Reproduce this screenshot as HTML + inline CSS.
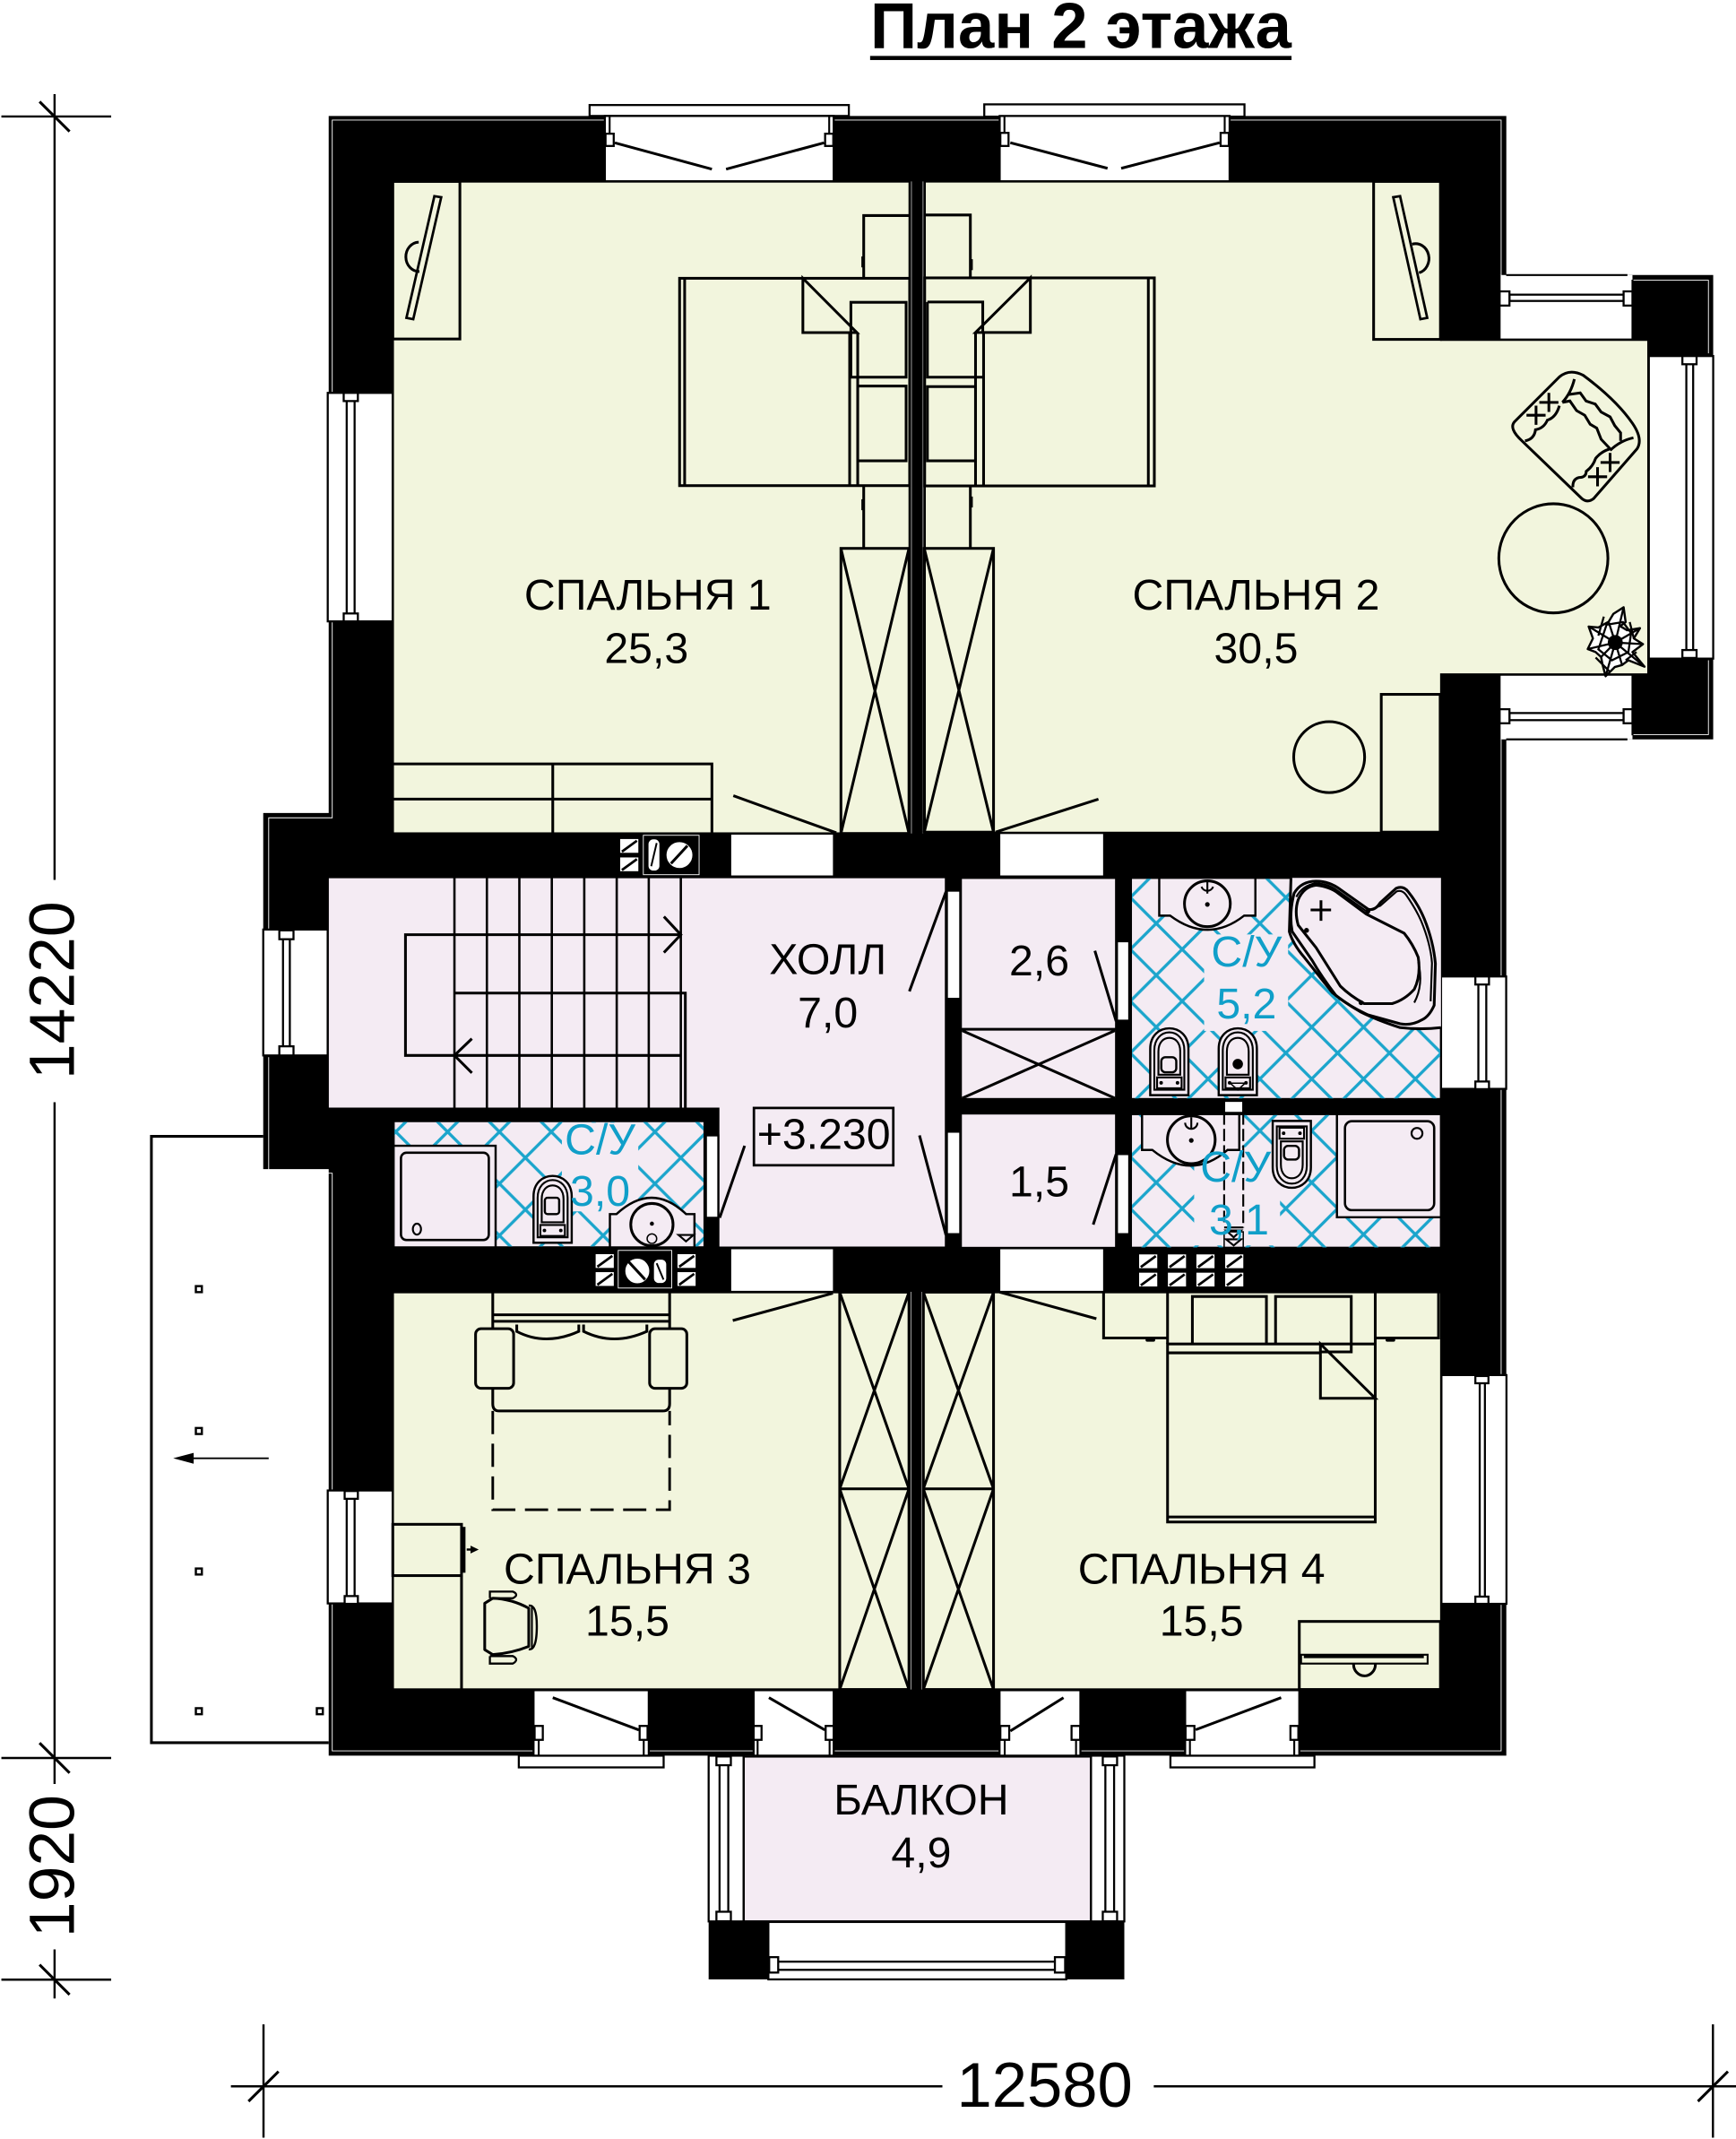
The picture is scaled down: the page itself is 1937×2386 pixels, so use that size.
<!DOCTYPE html>
<html lang="ru"><head><meta charset="utf-8"><title>План 2 этажа</title>
<style>
html,body{margin:0;padding:0;background:#fff}
svg{display:block}
text{font-family:"Liberation Sans",Arial,sans-serif;text-anchor:middle;fill:#000;font-size:31.7px}
.b{fill:#109fc9}
.l{fill:none;stroke:#000;stroke-width:2}
.t{fill:none;stroke:#000;stroke-width:1.4}
.w{fill:#fff;stroke:#000;stroke-width:1.5}
.g{fill:#f2f5dd;stroke:#000;stroke-width:1.7}
.p{fill:#f4ebf3;stroke:#000;stroke-width:1.6}
.gap{fill:none;stroke:#fff;stroke-width:.6}
.pk{fill:#f4ebf3}
</style></head><body>
<svg xmlns="http://www.w3.org/2000/svg" width="1937" height="2386" viewBox="0 0 1272.9 1568">
<defs>
<pattern id="tile1" patternUnits="userSpaceOnUse" x="866.8" y="695.9" width="38" height="38"><path d="M0,0L38,38M38,0L0,38" stroke="#1ba5cc" stroke-width="2.2" fill="none"/></pattern>
<pattern id="tile2" patternUnits="userSpaceOnUse" x="385.2" y="848.7" width="38" height="38"><path d="M0,0L38,38M38,0L0,38" stroke="#1ba5cc" stroke-width="2.2" fill="none"/></pattern>
<g id="wc">
<path class="p" d="M1,49V15C1,5 8,0 15,0C22,0 29,5 29,15V49Z"/>
<path class="t" d="M4,45V16C4,8 9,3 15,3C21,3 26,8 26,16V45Z"/>
<path class="t" d="M7,34V17C7,10 11,7 15,7C19,7 23,10 23,17V34Z"/>
<path class="t" d="M6,36H24V44H6Z"/>
<circle cx="9" cy="40" r="1.3"/><circle cx="21" cy="40" r="1.3"/>
</g>
<g id="cell"><rect class="w" x="0" y="0" width="14.8" height="11.6"/><path d="M2,10L13,2" stroke="#000" stroke-width="1.8"/></g>
</defs>

<!-- title -->
<text x="792.5" y="35" style="font-weight:bold;font-size:47.6px">План 2 этажа</text>
<rect x="638" y="41" width="309" height="3"/>

<!-- porch -->
<path class="l" d="M193,833H111V1277.5H241"/>
<g fill="#fff" stroke="#000" stroke-width="1.6">
<rect x="143.6" y="942.8" width="4.4" height="4.4"/><rect x="143.6" y="1046.8" width="4.4" height="4.4"/><rect x="143.6" y="1149.8" width="4.4" height="4.4"/><rect x="143.6" y="1252.2" width="4.4" height="4.4"/><rect x="232.3" y="1252.2" width="4.4" height="4.4"/></g>
<path d="M197,1069H135" stroke="#000" stroke-width="1.3"/><path d="M127,1069L142,1065V1073Z"/>

<!-- dimensions -->
<g stroke="#000" stroke-width="1.6" fill="none">
<path d="M40,69V645M40,808V1307.8M40,1429V1465M1,85.4H81.5M1,1288.7H81.5M1,1451.2H81.5"/>
<path d="M29,74.5L51,96.4M29,1277.7L51,1299.7M29,1440.2L51,1462.2" stroke-width="2"/>
<path d="M169.3,1529.4H691M846,1529.4H1273M193.2,1484V1567M1256,1484V1567"/>
<path d="M182.2,1540.4L204.2,1518.5M1245,1540.4L1267,1518.5" stroke-width="2"/>
</g>
<text x="766" y="1544.5" style="font-size:46.4px">12580</text>
<text transform="translate(54.3,726) rotate(-90)" style="font-size:47px">14220</text>
<text transform="translate(54.3,1368) rotate(-90)" style="font-size:47px">1920</text>

<!-- building mass -->
<path d="M241,85H1104.5V1287H241V857H193V596H241Z" fill="#000"/>
<path d="M1193.3,201.6H1256.2V262H1193.3ZM1193.3,482H1256.2V542H1193.3Z" fill="#000"/>
<rect x="519.6" y="1408.5" width="304.8" height="42.5" fill="#000"/>
<path class="gap" d="M243.6,288V88H1100.7V202M1100.7,542V716M1100.7,798V1008M1100.7,1175V1283.5H243.6V1175M243.6,1093V860H197V775M197,681V599.5H243.6V455"/>
<path class="gap" d="M1197,205.4H1252.7V259M1197,538.5H1252.7V484"/>

<!-- window: top -->
<rect class="w" x="432.3" y="77" width="190.1" height="8"/>
<rect class="w" x="443.5" y="85" width="167.8" height="48"/>
<rect class="w" x="721.7" y="76.5" width="190.8" height="9"/>
<rect class="w" x="733" y="85" width="168.6" height="48"/>
<path class="t" d="M447,85V98M608,85V98M736.5,85V98M898,85V98"/>
<rect class="w" x="444" y="98" width="6" height="9"/><rect class="w" x="605" y="98" width="6" height="9"/>
<rect class="w" x="733.5" y="97.4" width="6" height="9.6"/><rect class="w" x="895" y="97.4" width="6" height="9.6"/>
<path class="l" d="M450.8,104.7L522,124M604.2,104.7L532.4,124M740.8,104.6L812.1,123.4M894.3,104.6L822.1,123.4"/>

<!-- left windows -->
<rect class="w" x="240.3" y="288" width="47.7" height="167.5"/>
<rect class="w" x="254.2" y="292" width="5.8" height="160"/>
<rect class="w" x="252" y="288" width="10.4" height="6"/><rect class="w" x="252" y="449.7" width="10.4" height="5.8"/>
<rect class="w" x="193" y="681.4" width="47.3" height="92.3"/>
<rect class="w" x="207.5" y="686" width="5" height="84"/>
<rect class="w" x="204.8" y="682" width="10.4" height="6.5"/><rect class="w" x="204.8" y="767" width="10.4" height="6.7"/>
<rect class="w" x="240.3" y="1092.6" width="47.7" height="82.8"/>
<rect class="w" x="254.2" y="1096" width="5.8" height="76"/>
<rect class="w" x="252.7" y="1093" width="9.7" height="5.7"/><rect class="w" x="252.7" y="1170" width="9.7" height="5.7"/>

<!-- right windows -->
<rect class="w" x="1056.6" y="715.8" width="47.8" height="82.4"/>
<rect class="w" x="1084" y="719" width="5.8" height="76"/>
<rect class="w" x="1081.8" y="715.8" width="10" height="5.9"/><rect class="w" x="1081.8" y="792.8" width="10" height="5.6"/>
<rect class="w" x="1056.8" y="1008" width="47.8" height="167.7"/>
<rect class="w" x="1085" y="1011" width="3.8" height="162"/>
<rect class="w" x="1081.8" y="1008.7" width="9.6" height="5.3"/><rect class="w" x="1081.8" y="1170.4" width="9.6" height="5.3"/>

<!-- bay windows -->
<rect x="1099.6" y="201.6" width="97.4" height="47.2" fill="#fff" stroke="none"/>
<path class="t" d="M1104.4,201.6H1193.3M1099.6,201.6V249M1197,205V249"/>
<rect class="w" x="1106.8" y="216" width="83.7" height="4.6"/>
<rect class="w" x="1099.6" y="213.6" width="7.2" height="10.4"/><rect class="w" x="1190.5" y="213.6" width="6.5" height="10.4"/>
<rect x="1099.6" y="495" width="97.4" height="47" fill="#fff" stroke="none"/>
<path class="t" d="M1104.4,542H1193.3M1099.6,495V542M1197,495V539"/>
<rect class="w" x="1106.8" y="522.7" width="83.7" height="5.2"/>
<rect class="w" x="1099.6" y="519.9" width="7.2" height="10.3"/><rect class="w" x="1190.5" y="519.9" width="6.5" height="10.3"/>
<rect class="w" x="1209" y="261" width="47.2" height="221.8"/>
<rect class="w" x="1236.5" y="265" width="5" height="214"/>
<rect class="w" x="1233.6" y="261" width="10.4" height="6"/><rect class="w" x="1233.6" y="476.5" width="10.4" height="5.8"/>

<!-- bottom windows -->
<rect class="w" x="380.4" y="1287" width="106.2" height="8.6"/>
<rect class="w" x="858.2" y="1287" width="105.6" height="8.6"/>
<rect class="w" x="391.2" y="1239" width="84.5" height="48"/>
<rect class="w" x="552.6" y="1239" width="58.7" height="48"/>
<rect class="w" x="732.9" y="1239" width="59.3" height="48"/>
<rect class="w" x="869" y="1239" width="83.7" height="48"/>
<path class="t" d="M395,1275V1287M472,1275V1287M555.5,1275V1287M608.3,1275V1287M736.7,1275V1287M789,1275V1287M872.5,1275V1287M949,1275V1287"/>
<rect class="w" x="392" y="1265.2" width="6" height="10.2"/><rect class="w" x="469" y="1265.2" width="5.8" height="10.2"/>
<rect class="w" x="552.6" y="1265.2" width="5.8" height="10.2"/><rect class="w" x="605.4" y="1265.2" width="5.9" height="10.2"/>
<rect class="w" x="733.5" y="1265.2" width="6.5" height="10.2"/><rect class="w" x="785.7" y="1265.2" width="6.3" height="10.2"/>
<rect class="w" x="869.3" y="1265.2" width="6.5" height="10.2"/><rect class="w" x="946.2" y="1265.2" width="5.8" height="10.2"/>
<path class="l" d="M468.4,1268.1L405.3,1244.5M604.8,1268.1L563.8,1244.5M740.8,1268.9L779.8,1244.5M876.7,1268L939.4,1244.5"/>

<!-- balcony -->
<rect class="w" x="519.6" y="1287" width="25.7" height="121.5"/>
<rect class="w" x="799.9" y="1287" width="24.5" height="121.5"/>
<rect class="w" x="527.6" y="1291" width="6.4" height="114"/>
<rect class="w" x="810.5" y="1291" width="6.4" height="114"/>
<rect class="w" x="525.3" y="1287.6" width="10.6" height="6.4"/><rect class="w" x="525.3" y="1401.4" width="10.6" height="7"/>
<rect class="w" x="808.6" y="1287.6" width="10.5" height="6.4"/><rect class="w" x="808.6" y="1401.4" width="10.5" height="7"/>
<rect class="p" x="545.3" y="1287.6" width="254.6" height="120.9"/>
<rect class="w" x="563.4" y="1408.9" width="218.4" height="42.1"/>
<rect class="w" x="570" y="1438" width="204" height="6"/>
<rect class="w" x="564" y="1434.7" width="6.6" height="11.3"/><rect class="w" x="773.5" y="1434.7" width="7.5" height="11.3"/>

<!-- door openings -->
<rect class="w" x="535.4" y="610.5" width="76.1" height="32"/>
<rect class="w" x="732.7" y="610.5" width="76.9" height="32"/>
<rect class="w" x="535.4" y="915" width="76.1" height="32"/>
<rect class="w" x="732.7" y="915" width="76.9" height="32"/>

<!-- rooms -->
<rect class="g" x="288" y="133" width="379" height="478"/>
<path class="g" d="M678,133H1056.8V249H1208.7V494.5H1056.8V610.5H678Z"/>
<path class="p" d="M240.3,643H693.6V914.6H526.7V812.7H240.3Z"/>
<rect class="p" x="704.5" y="643.5" width="113.9" height="162.2"/>
<rect class="p" x="704.5" y="816.2" width="113.9" height="98.6"/>
<rect class="p" x="829.2" y="643.5" width="227.4" height="162.2"/>
<rect class="p" x="829.2" y="816.7" width="227.4" height="98"/>
<rect class="p" x="288.6" y="821.8" width="228" height="92.6"/>
<rect class="g" x="288" y="947.2" width="378.5" height="291.3"/>
<rect class="g" x="677.1" y="947.2" width="379.7" height="291.3"/>
<path d="M668.3,133V611M676.8,133V611M668,947V1238.5M675.8,947V1238.5" stroke="#cfcfcf" stroke-width=".5" fill="none"/>

<!-- door slots -->
<rect class="w" x="694.3" y="652.9" width="9.8" height="79.3"/>
<rect class="w" x="694.3" y="829.6" width="9.8" height="75.1"/>
<rect class="w" x="819" y="690" width="9" height="58.2"/>
<rect class="w" x="819" y="846" width="9" height="58.7"/>
<rect class="w" x="517.6" y="832.3" width="9.1" height="60.4"/>
<rect class="w" x="897.6" y="807" width="14" height="8.8"/>
<path class="l" d="M537.7,583.3L613.2,610.5M730,610L805.4,585.8M693.6,653.7L666.8,726.7M674.2,832.3L693.6,905.3M546,839.9L527.7,892.7M802.8,697L818.4,748.6M818.4,846L801.6,897.7M537.3,968L610.7,948M732.9,947.2L803.9,966.7"/>

<!-- tiles -->
<rect x="830" y="644.2" width="226" height="161" fill="url(#tile1)"/>
<rect x="830" y="817.4" width="226" height="97" fill="url(#tile1)"/>
<rect x="289.3" y="822.5" width="226.6" height="91.2" fill="url(#tile2)"/>
<rect class="pk" x="882.9" y="685" width="61.6" height="70.7"/>
<rect class="pk" x="875.6" y="841" width="63" height="72"/>
<rect class="pk" x="412" y="823" width="56" height="65"/>

<!-- bedroom 1 furniture -->
<rect class="l" x="288" y="133" width="49.2" height="115.5"/>
<path d="M318.5,143.8L323.5,144.6L303,234L298,233Z" fill="#f2f5dd" stroke="#000" stroke-width="1.8"/>
<path class="l" d="M307,177.5A9,10 0 0 0 307.5,199"/>
<rect class="l" x="498.3" y="204" width="168.7" height="152"/>
<path class="l" d="M502,204V356M623,243.8V356M628.9,243.8V356M588.7,204L628.3,243.8H588.7Z"/>
<rect class="l" x="623.9" y="221.6" width="40.5" height="54.9"/>
<rect class="l" x="628.9" y="283" width="35.5" height="54.8"/>
<path class="l" d="M633.3,204V158H667M633.3,356V402"/>
<rect x="631.6" y="188" width="1.8" height="8"/><rect x="631.6" y="366" width="1.8" height="8"/>
<rect class="l" x="616.6" y="402" width="49.9" height="209"/>
<path class="l" d="M616.6,402L666.5,611M666.5,402L616.6,611"/>
<path class="l" d="M288,560H522V611M288,585.8H522M405.3,560V611"/>

<!-- bedroom 2 furniture -->
<rect class="l" x="1007.2" y="133" width="49" height="115.8"/>
<path d="M1021.6,144.6L1026.6,143.8L1046.5,233L1041.5,234Z" fill="#f2f5dd" stroke="#000" stroke-width="1.8"/>
<path class="l" d="M1035.5,179A9,10 0 0 1 1040.5,200"/>
<rect class="l" x="678" y="203.7" width="168.4" height="152.5"/>
<path class="l" d="M842,203.7V356.2M715.3,243.7V356.2M721.2,243.7V356.2M755.5,203.7L715.3,243.7H755.5Z"/>
<path class="l" d="M680,221.4H720.6V243.7M720.6,276.5H680V221.4"/>
<rect class="l" x="680" y="283.4" width="35.3" height="54.4"/>
<path class="l" d="M711.5,203.7V157.6H678M711.5,356.2V401.6"/>
<rect x="711.5" y="190" width="1.8" height="8"/><rect x="711.5" y="364" width="1.8" height="8"/>
<rect class="l" x="677.7" y="402" width="50.8" height="208"/>
<path class="l" d="M677.7,402L728.5,610M728.5,402L677.7,610"/>
<rect class="l" x="1012.8" y="509" width="43.2" height="101"/>
<ellipse class="l" cx="974.6" cy="555" rx="26" ry="26"/>
<circle class="l" cx="1139" cy="409.3" r="40"/>

<!-- armchair -->
<path class="l" stroke-linejoin="round" d="M1116,323.2L1159.8,365.4Q1164.2,369 1168.6,365.4L1200.3,329.1Q1205,322 1197,310.3Q1185,293 1160.9,275.1Q1151,270 1143.4,276.3L1110.6,309.1Q1106,314 1116,323.2Z"/>
<path class="l" d="M1145.6,295L1151.1,293.9L1156,301L1162,304.4L1166,311L1170.8,313.8L1174,322L1180.6,329M1150,289.2L1158.7,288L1163,294L1169.7,296.2L1174,302L1180.6,305.6L1184,312L1188.3,317.3V323.2M1154.4,277.9Q1152,288 1145.6,295M1197.7,320.9Q1188,323 1180.6,330.2M1118.2,323.2Q1125,322 1125.9,315Q1132,314 1134.6,308Q1141,306 1143.4,297.4M1153.3,357.2Q1153,351 1158,350Q1163,350 1163.1,345.5Q1168,342 1170,336Q1174,331 1180.6,329"/>
<path class="l" d="M1128.7,295H1142.7M1135.7,288V302M1119.3,304.4H1133.3M1126.3,297.4V311.4M1173.6,339H1187.6M1180.6,332V346M1164.4,349.5H1178.4M1171.4,342.5V356.5"/>

<!-- plant -->
<path fill="#fff" stroke="#000" stroke-width="1.6" stroke-linejoin="round" d="M1190.5,445.2L1192,456L1188,459L1193,462L1202.5,460.5L1198,468L1204.7,472.2L1197,478L1205.8,488.7L1194,484L1189.4,487.5L1184,489L1177.3,495.7L1175,487L1174,481.6L1170,478L1164.2,475.8L1168,468L1164.9,459.3L1172,460L1179.5,455.8L1183,450Z"/>
<path stroke="#000" stroke-width="1.5" fill="none" d="M1184.4,471L1190.5,445.2M1184.4,471L1202.5,460.5M1184.4,471L1204.7,472.2M1184.4,471L1205.8,488.7M1184.4,471L1189.4,487.5M1184.4,471L1177.3,495.7M1184.4,471L1174,481.6M1184.4,471L1164.2,475.8M1184.4,471L1164.9,459.3M1184.4,471L1179.5,455.8M1176,452L1172,466M1195,456L1198,468M1170,482L1180,492M1192,484L1200,478M1178,458L1190,456L1196,464L1194,478L1182,484L1172,476Z"/>
<circle cx="1184.4" cy="471" r="5.5"/>

<!-- stairs -->
<path class="t" style="stroke-width:1.7" d="M333.2,643V812.7M357,643V812.7M380.8,643V812.7M404.6,643V812.7M428.4,643V812.7M452.2,643V812.7M475.7,643V812.7M499.2,643V812.7"/>
<path class="l" d="M499.2,685.2H297.3V773.7H499.2M333.2,728H502.5V812.7M486.8,671.9L499.2,685.2L486.8,698.3M346,761.4L333.2,773.7L346,786.5"/>
<rect x="552.8" y="812.2" width="102.2" height="42" fill="#f4ebf3" stroke="#000" stroke-width="1.8"/>

<!-- closet -->
<path class="l" d="M704.5,754.5H818.4M705.5,755.5L817.5,805M817.5,755.5L705.5,805"/>

<!-- vents -->
<use href="#cell" x="454" y="614.3"/><use href="#cell" x="454" y="627.8"/>
<rect x="471.7" y="612.3" width="40.9" height="28.9" fill="#000" stroke="#fff" stroke-width=".6"/>
<rect x="475" y="614.8" width="9" height="23.9" rx="4" fill="#fff" stroke="#000"/><path d="M481.5,618L477.5,635" stroke="#000" stroke-width="1.3"/>
<circle cx="498.2" cy="626.8" r="10" fill="#fff" stroke="#000"/><path d="M492,633L504,620" stroke="#000" stroke-width="2"/>
<use href="#cell" x="436" y="918.6"/><use href="#cell" x="436" y="931.8"/>
<use href="#cell" x="496" y="918.6"/><use href="#cell" x="496" y="931.8"/>
<rect x="453.3" y="916.6" width="39.2" height="27.6" fill="#000" stroke="#fff" stroke-width=".6"/>
<ellipse cx="467.3" cy="931.7" rx="9.3" ry="9.5" fill="#fff" stroke="#000"/><path d="M461,925L473,938" stroke="#000" stroke-width="2"/>
<rect x="479" y="922.9" width="10" height="18.1" rx="4" fill="#fff" stroke="#000"/><path d="M481.5,926L486.5,938" stroke="#000" stroke-width="1.3"/>
<use href="#cell" x="834.5" y="918.8"/><use href="#cell" x="855.6" y="918.8"/><use href="#cell" x="876.5" y="918.8"/><use href="#cell" x="897.6" y="918.8"/>
<use href="#cell" x="834.5" y="932.2"/><use href="#cell" x="855.6" y="932.2"/><use href="#cell" x="876.5" y="932.2"/><use href="#cell" x="897.6" y="932.2"/>

<!-- WC 3.0 -->
<path class="p" d="M288.6,839.9H363.4V914.4H288.6Z"/>
<rect class="t" x="294" y="845" width="64.4" height="64" rx="4" style="stroke-width:1.7"/>
<ellipse class="t" cx="305.7" cy="901" rx="3" ry="4"/>
<use href="#wc" x="390.2" y="862"/>
<rect x="399.5" y="878" width="10.5" height="12" rx="2" fill="none" stroke="#000" stroke-width="1.6"/>
<path class="p" d="M447.2,914.4V890H452Q478,866 503,890H509.2V914.4Z"/>
<circle class="l" cx="478" cy="897.7" r="15.5"/>
<circle cx="478" cy="897" r="1.5"/><circle cx="478" cy="908" r="3.5" fill="none" stroke="#000"/>
<path class="t" d="M497.5,905.3H508.5L503,910Z"/>

<!-- WC 5.2 -->
<path class="p" d="M850,643.5V671.2H858Q885.8,692 912.3,671.2H920.5V643.5Z"/>
<circle class="l" cx="885.3" cy="662.5" r="16.8"/>
<circle cx="885.3" cy="663" r="1.7"/><path class="t" d="M881,650A4.5,4.5 0 0 0 889.5,650M885.3,646V655"/>
<use href="#wc" x="842.4" y="753.8"/>
<rect x="851.5" y="775" width="11" height="11" rx="3" fill="none" stroke="#000" stroke-width="1.6"/>
<use href="#wc" x="892.6" y="753.8"/>
<circle cx="907.6" cy="780" r="3.8"/><path d="M902,794L907.6,799L913,794Z" fill="none" stroke="#000"/>
<!-- bath -->
<path class="pk" d="M946.6,643.5L945.4,682.9L956.3,701.7L976.8,727.5L997.3,741.6L1026.7,753.3H1056.6V643.5Z"/>
<path class="l" stroke-linejoin="round" d="M946.6,643.5L945.4,682.9Q948,692 956.3,701.7L976.8,727.5Q986,735 997.3,741.6Q1010,748 1026.7,753.3Q1042,755 1056.6,753.3"/>
<path class="l" stroke-linejoin="round" d="M948.9,654.8Q954,646 965,645.9Q975,646 982.7,652L1003.2,666.5Q1008,668 1012,661.8L1023.7,651.2Q1029,649 1032.5,653.6Q1040,663 1044.3,673.5Q1051,690 1052.5,706.4L1051.6,736.9Q1048,745 1042.8,747.5Q1035,752 1026.7,750.5L1003.2,744Q990,738 979.7,729.9Q969,716 962.1,704L947.5,682.9Q945,670 948.9,654.8Z"/>
<path class="t" stroke-linejoin="round" d="M950.5,657.5Q955,649 965,647.4Q975,648 981.5,653.5L1002,668L1012,664L1024,653.5Q1028,652 1031,656Q1038,666 1042,675Q1049,692 1050,706L1049,734"/>
<path class="l" stroke-linejoin="round" d="M951.9,659.5Q956,650 965,648.9Q975,650 981.2,654.8L1001.7,670L1029.6,684.1Q1036,692 1039.9,701.7Q1042,715 1037,725.2Q1030,733 1020.8,735.7H1000.3Q990,730 982.7,722.8L965,694.7L951.9,678.2Q949,668 951.9,659.5Z"/>
<path class="l" d="M968.6,660V675M961,667H976"/>
<path class="t" d="M1039.9,705Q1044,722 1037,735"/>
<circle cx="958" cy="682" r="1.8"/><circle cx="998" cy="735" r="1.8"/><circle cx="1003" cy="668" r="1.8"/>

<!-- WC 3.1 -->
<path class="p" d="M837.4,816.7V843H845Q873.5,866 900,843H908.7V816.7Z"/>
<circle class="l" cx="873.5" cy="835.5" r="17.5"/>
<circle cx="873.5" cy="836" r="1.7"/><path class="t" d="M869,823A4.5,4.5 0 0 0 878,823M873.5,819V828"/>
<g transform="translate(932.2,870.7) scale(1,-1)"><use href="#wc"/></g>
<rect x="941.5" y="840" width="11" height="10" rx="3" fill="none" stroke="#000" stroke-width="1.6"/>
<path class="p" d="M980.3,816.7H1056.6V892.3H980.3Z"/>
<rect class="t" x="986.2" y="821.9" width="65.4" height="65.2" rx="5" style="stroke-width:1.7"/>
<ellipse class="t" cx="1039" cy="830.8" rx="4" ry="4"/>
<path d="M897.6,815.5V896M911.6,815.5V900" stroke="#000" stroke-width="1.4" stroke-dasharray="9 3" fill="none"/>
<path class="t" d="M897.6,899.8H911.6M899,902L904.6,907L910,902ZM899,908.5H910L904.6,913Z"/>
<rect x="897.6" y="903" width="14" height="12" fill="none" stroke="#000" stroke-width="1"/>

<!-- bedroom 3 furniture -->
<path class="l" d="M361.3,947.2V974M491,947.2V974M361.3,963.8H491M361.3,968.6H491M361.3,1017.7V1029Q361.3,1034.3 366,1034.3H486Q491,1034.3 491,1029V1017.7"/>
<path d="M361.3,1034.3V1106.7H491V1034.3" fill="none" stroke="#000" stroke-width="1.9" stroke-dasharray="17 7"/>
<path class="l" d="M378.9,971V976Q400,987 424.4,976V971M427.9,971V976Q450,987 474.3,976V971"/>
<rect class="l" x="348.7" y="974" width="27.9" height="43.7" rx="4" style="fill:#f2f5dd"/>
<rect class="l" x="476.3" y="974" width="27.3" height="43.7" rx="4" style="fill:#f2f5dd"/>
<rect class="l" x="288" y="1117.4" width="50.4" height="37.6"/>
<path class="l" d="M338.4,1155V1238.5"/>
<rect x="338.4" y="1119.3" width="2.9" height="33.6"/>
<path d="M342.2,1135.9H346" stroke="#000" stroke-width="1.6"/><path d="M345,1133L351,1135.9L345,1138.8Z"/>
<path class="l" stroke-linejoin="round" d="M355.4,1175.3L361.3,1171.6Q375,1172 387.7,1178.9V1206.9Q375,1212 361.3,1212.9L355.4,1209.3Z"/>
<path class="t" style="stroke-width:1.6" d="M387.7,1177Q393.6,1176 393.6,1192Q393.6,1210 387.7,1209"/>
<path class="t" d="M390,1178V1208"/>
<path class="t" style="stroke-width:1.5" d="M359.2,1171.6V1166.7H376Q381,1169 376,1171.6H359.2M359.2,1214H376Q381,1216.5 376,1219.5H359.2V1214"/>
<rect class="l" x="615.7" y="947.2" width="50.8" height="291.3"/>
<path class="l" d="M615.7,1091.4H666.5M615.7,947.2L666.5,1091.4M666.5,947.2L615.7,1091.4M615.7,1091.4L666.5,1238.5M666.5,1091.4L615.7,1238.5"/>

<!-- bedroom 4 furniture -->
<rect class="l" x="677" y="947.2" width="51.5" height="291.3"/>
<path class="l" d="M677,1091.4H728.5M677,947.2L728.5,1091.4M728.5,947.2L677,1091.4M677,1091.4L728.5,1238.5M728.5,1091.4L677,1238.5"/>
<path class="l" d="M809.2,947.2V980.8H856.1M1054.8,947.2V980.8H1008.4M856.1,947.2V985.2M1008.4,947.2V985.2"/>
<rect x="840" y="981" width="7" height="2.5" rx="1"/><rect x="1016" y="981" width="7" height="2.5" rx="1"/>
<path class="l" d="M874.3,985.2V950.4H928.6V985.2M935.3,985.2V950.4H990.8V991H968"/>
<rect class="l" x="856.1" y="985.2" width="152.3" height="130.5"/>
<path class="l" d="M856.1,991.7H968.2M856.1,1112H1008.4M968.2,985.2L1008.4,1025H968.2Z"/>
<rect class="l" x="952.7" y="1188.6" width="103.5" height="49.9"/>
<rect x="954" y="1213" width="92.8" height="6.5" fill="#f2f5dd" stroke="#000" stroke-width="1.4"/><rect x="956" y="1212.5" width="88" height="3"/>
<path class="l" d="M992.5,1220A8,8.5 0 0 0 1008.5,1220"/>

<!-- labels -->
<text x="475" y="447">СПАЛЬНЯ 1</text><text x="474" y="486">25,3</text>
<text x="921" y="447">СПАЛЬНЯ 2</text><text x="921" y="486">30,5</text>
<text x="607" y="714">ХОЛЛ</text><text x="607" y="753">7,0</text>
<text x="604" y="842">+3.230</text>
<text x="762" y="715">2,6</text><text x="762" y="877">1,5</text>
<text x="460" y="1161">СПАЛЬНЯ 3</text><text x="460" y="1199">15,5</text>
<text x="881" y="1161">СПАЛЬНЯ 4</text><text x="881" y="1199">15,5</text>
<text x="675.5" y="1330">БАЛКОН</text><text x="675.5" y="1369">4,9</text>
<text class="b" x="914" y="708.5">С/У</text><text class="b" x="914" y="746.5">5,2</text>
<text class="b" x="906" y="866">С/У</text><text class="b" x="908.5" y="905">3,1</text>
<text class="b" x="440" y="846">С/У</text><text class="b" x="440" y="884">3,0</text>
</svg>
</body></html>
